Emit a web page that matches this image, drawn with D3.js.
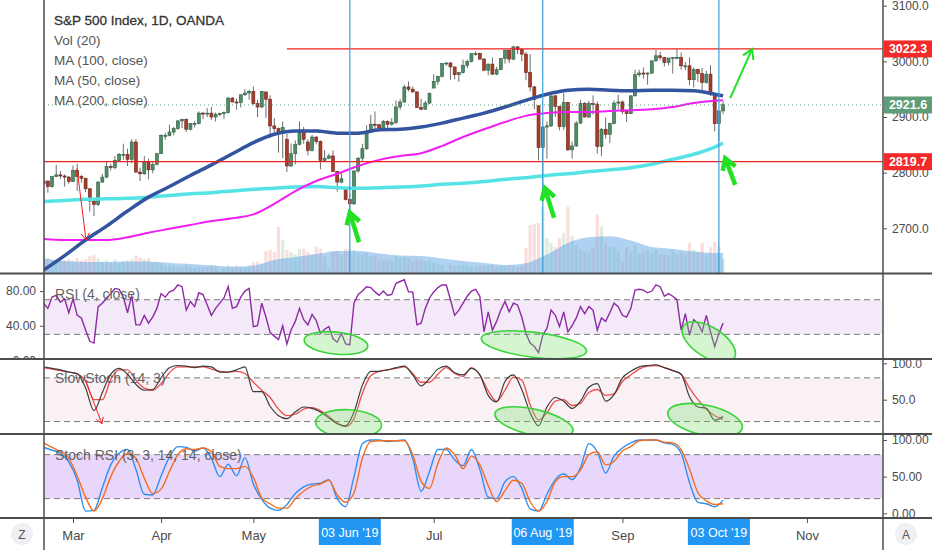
<!DOCTYPE html>
<html>
<head>
<meta charset="utf-8">
<script src="https://cdn.jsdelivr.net/npm/d3@7"></script>
<style>
  body { margin: 0; background: #fff; }
  svg { display: block; font-family: "Liberation Sans", Arial, sans-serif; }
</style>
</head>
<body>
<div id="container"></div>
<script>
/* DATA (daily bars, first bar = 20 Feb 2019, weekdays only) */
const firstDay = "2019-02-20";
const lastDay = "2019-11-30";

const open = [
  2780, 2785, 2775, 2793, 2796, 2794, 2792,
  2784, 2804, 2793, 2790, 2771, 2749, 2743, 2783, 2792, 2811, 2809, 2822, 2833, 2833, 2824, 2855, 2801, 2798, 2819, 2805, 2815,
  2834, 2867, 2867, 2873, 2879, 2893, 2896, 2878, 2888, 2888, 2907, 2906, 2907, 2900, 2905, 2906, 2908, 2934, 2927, 2926, 2940, 2943,
  2946, 2924, 2918, 2945, 2932, 2884, 2879, 2871, 2860, 2812, 2834, 2851, 2876, 2855, 2840, 2864, 2856, 2822, 2826, 2830, 2802, 2783, 2770,
  2752, 2744, 2803, 2826, 2843, 2873, 2887, 2886, 2880, 2892, 2887, 2890, 2918, 2927, 2954, 2950, 2945, 2917, 2914, 2925,
  2952, 2964, 2973, 2996, 2997, 2990, 2976, 2980, 2993, 3000, 3014, 3014, 3004, 2984, 2995, 2977, 2985, 3005, 3020, 3004, 3026, 3021, 3013,
  2980, 2954, 2920, 2845, 2882, 2884, 2938, 2919, 2883, 2926, 2841, 2848, 2889, 2924, 2900, 2924, 2923, 2847, 2878, 2869, 2888, 2925,
  2927, 2910, 2906, 2938, 2976, 2979, 2978, 2979, 3001, 3010, 3007, 2998, 3006, 3007, 3007, 2992, 2992, 2967, 2985, 2978, 2962,
  2977, 2940, 2888, 2911
];
const high = [
  2789, 2786, 2793, 2814, 2803, 2797, 2794,
  2813, 2816, 2796, 2791, 2772, 2750, 2785, 2798, 2821, 2816, 2830, 2835, 2852, 2843, 2860, 2860, 2809, 2830, 2825, 2819, 2836,
  2869, 2872, 2886, 2882, 2894, 2896, 2897, 2889, 2893, 2910, 2909, 2916, 2918, 2908, 2908, 2910, 2936, 2936, 2933, 2940, 2950, 2949,
  2955, 2931, 2947, 2946, 2939, 2898, 2881, 2892, 2870, 2852, 2858, 2892, 2882, 2860, 2868, 2865, 2858, 2841, 2834, 2840, 2803, 2800, 2775,
  2763, 2804, 2828, 2852, 2885, 2904, 2910, 2888, 2895, 2894, 2898, 2930, 2932, 2958, 2964, 2955, 2946, 2933, 2929, 2944,
  2977, 2974, 2996, 2999, 2999, 2990, 2981, 3003, 3003, 3014, 3018, 3016, 3006, 2996, 3007, 2990, 3005, 3020, 3021, 3028, 3027, 3022, 3017,
  3013, 2956, 2921, 2885, 2892, 2938, 2940, 2920, 2943, 2927, 2856, 2893, 2931, 2927, 2929, 2939, 2928, 2880, 2899, 2890, 2930, 2940,
  2930, 2914, 2939, 2985, 2985, 2989, 2980, 3001, 3021, 3017, 3008, 3006, 3008, 3022, 3016, 2999, 3007, 2989, 2987, 2988, 2983,
  2993, 2942, 2911, 2928
];
const low = [
  2774, 2764, 2773, 2792, 2789, 2775, 2780,
  2783, 2767, 2782, 2765, 2730, 2722, 2740, 2782, 2790, 2804, 2806, 2819, 2823, 2812, 2817, 2800, 2785, 2796, 2788, 2799, 2813,
  2834, 2859, 2865, 2867, 2877, 2880, 2873, 2876, 2881, 2887, 2896, 2900, 2895, 2892, 2902, 2896, 2906, 2926, 2913, 2917, 2938, 2931,
  2922, 2900, 2916, 2898, 2862, 2873, 2836, 2826, 2801, 2810, 2815, 2849, 2852, 2831, 2838, 2851, 2806, 2820, 2824, 2801, 2766, 2781, 2750,
  2729, 2742, 2800, 2821, 2841, 2871, 2878, 2874, 2879, 2880, 2885, 2887, 2913, 2925, 2946, 2944, 2916, 2912, 2913, 2923,
  2952, 2958, 2971, 2992, 2967, 2968, 2963, 2978, 2988, 2998, 3010, 3003, 2984, 2975, 2976, 2975, 2984, 2996, 2997, 3002, 3013, 3000, 2966,
  2946, 2914, 2822, 2776, 2825, 2882, 2900, 2876, 2877, 2839, 2825, 2846, 2888, 2899, 2898, 2904, 2834, 2830, 2861, 2853, 2887, 2914,
  2905, 2891, 2905, 2937, 2972, 2969, 2958, 2977, 2999, 3002, 2991, 2993, 2978, 3004, 2985, 2984, 2957, 2953, 2963, 2946, 2960,
  2938, 2874, 2856, 2905
];
const close = [
  2785, 2775, 2793, 2796, 2794, 2792, 2784,
  2804, 2793, 2790, 2771, 2749, 2743, 2783, 2792, 2811, 2809, 2822, 2833, 2833, 2824, 2855, 2801, 2798, 2819, 2805, 2815, 2834,
  2867, 2867, 2873, 2879, 2893, 2896, 2878, 2888, 2888, 2907, 2906, 2907, 2900, 2905, 2906, 2908, 2934, 2927, 2926, 2940, 2943, 2946,
  2924, 2918, 2946, 2932, 2884, 2879, 2871, 2881, 2812, 2834, 2851, 2876, 2860, 2840, 2864, 2856, 2822, 2826, 2830, 2802, 2783, 2789, 2752,
  2744, 2803, 2826, 2843, 2873, 2887, 2886, 2880, 2892, 2887, 2890, 2918, 2927, 2954, 2950, 2945, 2917, 2914, 2925, 2942,
  2964, 2973, 2996, 2997, 2990, 2976, 2980, 2993, 3000, 3014, 3014, 3004, 2984, 2995, 2977, 2985, 3005, 3020, 3004, 3026, 3021, 3013, 2980,
  2954, 2932, 2845, 2882, 2884, 2938, 2919, 2883, 2926, 2841, 2848, 2889, 2924, 2900, 2924, 2923, 2847, 2878, 2869, 2888, 2925, 2927,
  2910, 2906, 2938, 2976, 2979, 2978, 2979, 3001, 3010, 3007, 2998, 3006, 3007, 3007, 2992, 2992, 2967, 2985, 2978, 2962, 2977,
  2940, 2888, 2911, 2922
];
const volume = [
  60, 62, 55, 58, 52, 55, 58,
  55, 65, 52, 58, 72, 76, 62, 48, 55, 45, 58, 42, 52, 55, 58, 76, 66, 60, 64, 44, 48,
  40, 30, 32, 28, 25, 24, 32, 25, 24, 28, 24, 26, 32, 28, 6, 20, 32, 28, 32, 28, 24, 32,
  45, 48, 40, 95, 99, 90, 197, 140, 99, 90, 80, 104, 104, 90, 80, 113, 105, 70, 20, 90, 95, 80, 103,
  103, 100, 85, 80, 85, 70, 75, 60, 55, 55, 50, 75, 65, 70, 65, 50, 60, 55, 50, 55,
  45, 35, 30, 8, 35, 30, 30, 35, 30, 25, 25, 30, 30, 35, 35, 25, 30, 30, 35, 30, 25, 30, 107,
  206, 210, 214, 283, 150, 129, 110, 150, 171, 283, 160, 120, 100, 95, 90, 110, 250, 200, 130, 110, 110, 90,
  50, 110, 90, 120, 80, 90, 95, 85, 100, 80, 80, 75, 100, 80, 90, 80, 129, 100, 90, 129, 80,
  110, 133, 115, 60
];

// moving averages, read every 5 bars
const maBars = [0, 5, 10, 15, 20, 25, 30, 35, 40, 45, 50, 55, 60, 65, 70, 75, 80, 85, 90, 95, 100, 105, 110, 115, 120, 125, 130, 135, 140, 145, 150, 155, 160, 162];
const ma100 = [2625, 2651, 2679, 2704, 2731, 2756, 2775, 2795, 2814, 2834, 2854, 2869, 2875, 2875, 2871, 2871, 2877, 2878, 2882, 2889, 2898, 2907, 2918, 2930, 2941, 2948, 2950, 2948, 2947, 2948, 2948, 2947, 2941, 2938];
const ma50 = [2681, 2679, 2679, 2679, 2684, 2692, 2699, 2706, 2713, 2718, 2725, 2744, 2767, 2785, 2798, 2812, 2823, 2830, 2835, 2848, 2864, 2878, 2891, 2902, 2907, 2909, 2909, 2911, 2912, 2914, 2918, 2925, 2929, 2930];
const ma200 = [2748, 2750, 2752, 2753, 2754, 2756, 2759, 2762, 2764, 2767, 2770, 2772, 2774, 2775, 2773, 2772, 2773, 2774, 2776, 2779, 2781, 2784, 2788, 2791, 2795, 2798, 2802, 2805, 2809, 2815, 2824, 2833, 2846, 2853];
const volMA = [64, 51, 47, 47, 49, 49, 43, 39, 33, 27, 32, 56, 69, 81, 94, 94, 84, 75, 73, 62, 51, 43, 34, 42, 79, 129, 153, 158, 139, 111, 103, 92, 86, 86];

// RSI (4) one value per bar
const rsi = [
  66, 60, 73, 75, 67, 71, 55,
  71, 52, 49, 35, 22, 20, 62, 66, 72, 77, 83, 82, 73, 55, 75, 41, 41, 52, 43, 50, 60,
  77, 73, 79, 81, 87, 85, 58, 68, 62, 78, 76, 64, 52, 60, 66, 72, 85, 60, 62, 73, 80, 83,
  39, 40, 66, 50, 32, 28, 24, 40, 19, 35, 45, 60, 47, 41, 53, 46, 31, 36, 39, 25, 21, 31, 19,
  18, 66, 76, 80, 85, 84, 79, 75, 80, 75, 76, 89, 91, 93, 79, 79, 41, 43, 60, 72,
  79, 84, 87, 87, 70, 52, 58, 66, 74, 80, 82, 74, 33, 56, 35, 45, 58, 68, 56, 66, 64, 50, 31,
  20, 16, 9, 29, 37, 58, 52, 39, 56, 33, 40, 49, 62, 54, 62, 58, 35, 49, 45, 55, 66, 62,
  52, 50, 60, 81, 82, 81, 78, 80, 87, 85, 74, 77, 74, 70, 35, 54, 29, 47, 43, 33, 52,
  33, 16, 31, 43
];

// oscillators read every 2 bars
const stochK = [95, 93, 91, 88, 86, 66, 35, 60, 85, 93, 85, 71, 63, 64, 80, 94, 97, 96, 94, 96, 95, 88, 88, 91, 95, 61, 61, 41, 28, 24, 33, 40, 38, 33, 25, 17, 14, 33, 70, 89, 89, 91, 94, 96, 84, 69, 79, 92, 96, 87, 84, 93, 84, 56, 47, 75, 84, 64, 32, 14, 40, 53, 48, 38, 48, 67, 72, 48, 57, 80, 89, 95, 97, 98, 94, 90, 85, 54, 40, 38, 22, 27];
const stochD = [94, 92, 90, 88, 85, 76, 50, 50, 78, 91, 91, 77, 66, 63, 72, 87, 95, 95, 95, 95, 92, 89, 88, 89, 86, 74, 63, 53, 37, 28, 30, 37, 39, 35, 27, 18, 13, 24, 59, 83, 89, 91, 93, 95, 86, 74, 74, 85, 94, 86, 82, 94, 84, 62, 48, 63, 81, 77, 43, 22, 32, 48, 50, 42, 45, 60, 64, 56, 58, 75, 84, 92, 96, 97, 94, 90, 85, 66, 50, 37, 28, 23];
const srsiK = [90, 86, 82, 70, 45, 3, 4, 35, 66, 82, 87, 60, 26, 25, 51, 77, 91, 90, 85, 89, 75, 50, 67, 51, 76, 40, 19, 7, 4, 12, 27, 36, 40, 41, 46, 20, 9, 50, 95, 100, 100, 98, 99, 100, 75, 30, 57, 87, 87, 73, 65, 87, 60, 22, 20, 43, 50, 34, 6, 3, 26, 46, 54, 46, 62, 95, 84, 55, 78, 89, 96, 100, 100, 100, 96, 94, 82, 42, 15, 13, 9, 18];
const srsiD = [96, 90, 84, 75, 51, 22, 3, 20, 50, 71, 82, 75, 48, 27, 33, 57, 80, 88, 87, 89, 84, 64, 61, 61, 64, 49, 21, 13, 7, 7, 20, 30, 37, 40, 45, 25, 15, 28, 75, 98, 99, 99, 99, 99, 80, 44, 34, 68, 89, 80, 61, 78, 66, 38, 16, 31, 45, 41, 16, 3, 16, 43, 50, 50, 59, 80, 84, 66, 71, 85, 91, 99, 100, 100, 97, 96, 87, 60, 28, 17, 12, 13];

// levels and labels
const levels = [3022.3, 2819.7];
const levelStart = ["2019-05-13", firstDay];
const lastPrice = 2921.6;
const markedDates = ["2019-06-03", "2019-08-06", "2019-10-03"];
const markedLabels = ["03 Jun '19", "06 Aug '19", "03 Oct '19"];
const monthTicks = ["Mar", "Apr", "May", "Jul", "Sep", "Nov"];
const priceTicks = [2700, 2800, 2900, 3000, 3100];
const rsiTicks = [0, 40, 80];
const stochTicks = [50, 100];
const srsiTicks = [0, 50, 100];
const legendLines = ["S&P 500 Index, 1D, OANDA", "Vol (20)", "MA (100, close)", "MA (50, close)", "MA (200, close)"];

// hand drawn notes: [bar, value] pairs
const greenArrows = [[75.2, 2675, 73.0, 2728], [121.7, 2719, 119.5, 2772], [164.9, 2778, 162.5, 2826]];
const targetArrow = [163.7, 2934, 168.9, 3022];
const redArrowMain = [7.95, 2808, 10.1, 2679];
const redArrowStoch = [9.9, 77, 13.9, 17];
const rsiCircles = [[69.7, 20, 32, 11, 6], [116.9, 18, 53, 12.5, 7], [158.6, 21, 30, 15, 32]];
const stochCircles = [[72.7, 17, 33, 14, 3], [116.9, 19, 40, 13, 13], [157.7, 22, 38, 15, 12]];

/* LAYOUT */
const W = 932, H = 550;
const left = 44, right = 883;
const pane = {
  main: [0, 273],
  rsi: [274, 359],
  stoch: [359, 434],
  srsi: [434, 518]
};

const parseDay = d3.utcParse("%Y-%m-%d");
const days = d3.utcDay.range(parseDay(firstDay), parseDay(lastDay))
  .filter(d => d.getUTCDay() !== 0 && d.getUTCDay() !== 6);
const barOf = s => days.findIndex(d => +d === +parseDay(s));

/* SCALES */
const x = d3.scaleLinear().domain([0.085, 200.13]).range([left, right]);
const yPrice = d3.scaleLinear().domain([2700, 3100]).range([228.3, 5.7]);
const yVol = d3.scaleLinear().domain([0, 300]).range([273, 203]);
const yRsi = d3.scaleLinear().domain([0, 100]).range([360.4, 273.7]);
const yStoch = d3.scaleLinear().domain([0, 100]).range([436.1, 363.3]);
const ySrsi = d3.scaleLinear().domain([0, 100]).range([513.3, 440]);

const svg = d3.select("#container").append("svg")
  .attr("width", W).attr("height", H);
svg.append("rect").attr("width", W).attr("height", H).attr("fill", "#ffffff");
const defs = svg.append("defs");

function paneGroup(id, [top, bottom]) {
  defs.append("clipPath").attr("id", id).append("rect")
    .attr("x", left).attr("y", top).attr("width", right - left).attr("height", bottom - top);
  return svg.append("g").attr("clip-path", `url(#${id})`);
}

function band(g, y, lo, hi, fill) {
  g.append("rect").attr("x", left).attr("width", right - left)
    .attr("y", y(hi)).attr("height", y(lo) - y(hi)).attr("fill", fill);
  [lo, hi].forEach(v => g.append("line")
    .attr("x1", left).attr("x2", right).attr("y1", y(v)).attr("y2", y(v))
    .attr("stroke", "#7a7a7a").attr("stroke-dasharray", "6,4"));
}

function arrow(g, [b1, v1, b2, v2], y, color, width, head) {
  const x1 = x(b1), y1 = y(v1), x2 = x(b2), y2 = y(v2);
  const a = Math.atan2(y2 - y1, x2 - x1);
  g.append("line").attr("x1", x1).attr("y1", y1).attr("x2", x2).attr("y2", y2)
    .attr("stroke", color).attr("stroke-width", width);
  g.append("path")
    .attr("d", `M${x2 - head * Math.cos(a - 0.55)},${y2 - head * Math.sin(a - 0.55)}L${x2},${y2}L${x2 - head * Math.cos(a + 0.55)},${y2 - head * Math.sin(a + 0.55)}`)
    .attr("fill", "none").attr("stroke", color).attr("stroke-width", width)
    .attr("stroke-linejoin", "miter");
}

function circles(g, list, y) {
  g.selectAll(null).data(list).join("ellipse")
    .attr("cx", 0).attr("cy", 0)
    .attr("rx", d => d[2]).attr("ry", d => d[3])
    .attr("transform", d => `translate(${x(d[0])},${y(d[1])}) rotate(${d[4]})`)
    .attr("fill", "rgba(120,225,110,0.32)")
    .attr("stroke", "#38d438").attr("stroke-width", 1.6);
}

/* MAIN PANE */
const bars = close.map((c, k) => ({ k, o: open[k], h: high[k], l: low[k], c, v: volume[k] }));
const mainG = paneGroup("clip-main", pane.main);

mainG.selectAll(".vol").data(bars).join("rect")
  .attr("class", "vol")
  .attr("x", d => x(d.k) - 1.6).attr("width", 3.2)
  .attr("y", d => yVol(d.v)).attr("height", d => yVol(0) - yVol(d.v))
  .attr("fill", d => d.c >= d.o ? "rgba(90,170,120,0.22)" : "rgba(235,100,90,0.22)");

const maPts = arr => maBars.map((k, i) => ({ k, v: arr[i] }));
mainG.append("path").datum(maPts(volMA))
  .attr("d", d3.area().x(d => x(d.k)).y0(yVol(0)).y1(d => yVol(d.v)).curve(d3.curveMonotoneX))
  .attr("fill", "rgba(95,165,230,0.5)");

mainG.selectAll(".wick").data(bars).join("line")
  .attr("class", "wick")
  .attr("x1", d => x(d.k)).attr("x2", d => x(d.k))
  .attr("y1", d => yPrice(d.h)).attr("y2", d => yPrice(d.l))
  .attr("stroke", "#6e6e6e").attr("stroke-width", 1);

mainG.selectAll(".body").data(bars).join("rect")
  .attr("class", "body")
  .attr("x", d => x(d.k) - 1.5).attr("width", 3)
  .attr("y", d => yPrice(Math.max(d.o, d.c)))
  .attr("height", d => Math.max(1, Math.abs(yPrice(d.o) - yPrice(d.c))))
  .attr("fill", d => d.c >= d.o ? "#4f8d69" : "#a83d2c")
  .attr("stroke", d => d.c >= d.o ? "#2e5c42" : "#6a2219").attr("stroke-width", 0.6);

const maLine = d3.line().x(d => x(d.k)).y(d => yPrice(d.v)).curve(d3.curveMonotoneX);
mainG.append("path").datum(maPts(ma200)).attr("d", maLine)
  .attr("fill", "none").attr("stroke", "#56e3e6").attr("stroke-width", 3.5);
mainG.append("path").datum(maPts(ma50)).attr("d", maLine)
  .attr("fill", "none").attr("stroke", "#f01ef0").attr("stroke-width", 2);
mainG.append("path").datum(maPts(ma100)).attr("d", maLine)
  .attr("fill", "none").attr("stroke", "#33549e").attr("stroke-width", 3.5);

// horizontal levels
levels.forEach((v, i) => mainG.append("line")
  .attr("x1", x(barOf(levelStart[i]))).attr("x2", right)
  .attr("y1", yPrice(v)).attr("y2", yPrice(v))
  .attr("stroke", "#f21f1f").attr("stroke-width", 1.3));
mainG.append("line")
  .attr("x1", left).attr("x2", right).attr("y1", yPrice(lastPrice)).attr("y2", yPrice(lastPrice))
  .attr("stroke", "#5e9a78").attr("stroke-width", 1).attr("stroke-dasharray", "1,3");

// vertical markers
markedDates.forEach(s => mainG.append("line")
  .attr("x1", x(barOf(s))).attr("x2", x(barOf(s)))
  .attr("y1", pane.main[0]).attr("y2", pane.main[1])
  .attr("stroke", "#3d9fdc").attr("stroke-width", 1.2));

greenArrows.forEach(a => arrow(mainG, a, yPrice, "#22e022", 4.5, 13));
arrow(svg, targetArrow, yPrice, "#22e022", 2, 11);
arrow(mainG, redArrowMain, yPrice, "#f02020", 1, 8);

/* RSI PANE */
const rsiG = paneGroup("clip-rsi", pane.rsi);
band(rsiG, yRsi, 30, 70, "#f3e9f8");
rsiG.append("path").datum(rsi)
  .attr("d", d3.line().x((d, k) => x(k)).y(d => yRsi(d)))
  .attr("fill", "none").attr("stroke", "#8e2aa3").attr("stroke-width", 1.4);
circles(rsiG, rsiCircles, yRsi);

/* SLOW STOCH PANE */
const oscPts = arr => arr.map((v, i) => ({ k: i * 2, v }));
const stG = paneGroup("clip-stoch", pane.stoch);
band(stG, yStoch, 20, 80, "#faf1f5");
const stLine = d3.line().x(d => x(d.k)).y(d => yStoch(d.v)).curve(d3.curveMonotoneX);
stG.append("path").datum(oscPts(stochD)).attr("d", stLine)
  .attr("fill", "none").attr("stroke", "#ec4d4d").attr("stroke-width", 1.3);
stG.append("path").datum(oscPts(stochK)).attr("d", stLine)
  .attr("fill", "none").attr("stroke", "#3c3c3c").attr("stroke-width", 1.2);
arrow(stG, redArrowStoch, yStoch, "#f02020", 1, 7);
circles(stG, stochCircles, yStoch);

/* STOCH RSI PANE */
const srG = paneGroup("clip-srsi", pane.srsi);
band(srG, ySrsi, 20, 80, "#e8d7fa");
const srLine = d3.line().x(d => x(d.k)).y(d => ySrsi(d.v)).curve(d3.curveMonotoneX);
srG.append("path").datum(oscPts(srsiK)).attr("d", srLine)
  .attr("fill", "none").attr("stroke", "#2f8ff0").attr("stroke-width", 1.4);
srG.append("path").datum(oscPts(srsiD)).attr("d", srLine)
  .attr("fill", "none").attr("stroke", "#f26d21").attr("stroke-width", 1.4);

/* AXES */
function styleAxis(g) {
  g.select(".domain").remove();
  g.selectAll("line").attr("stroke", "#555");
  g.selectAll("text").attr("fill", "#4a4a4a").attr("font-size", 12)
    .attr("font-family", "Liberation Sans, Arial, sans-serif");
}
svg.append("g").attr("transform", `translate(${right},0)`)
  .call(d3.axisRight(yPrice).tickValues(priceTicks).tickFormat(d3.format(".1f")).tickSize(4).tickPadding(5))
  .call(styleAxis);
defs.append("clipPath").attr("id", "clip-rsi-axis").append("rect")
  .attr("x", 0).attr("y", pane.rsi[0]).attr("width", left + 1).attr("height", pane.rsi[1] - pane.rsi[0]);
svg.append("g").attr("clip-path", "url(#clip-rsi-axis)").append("g")
  .attr("transform", `translate(${left},0)`)
  .call(d3.axisLeft(yRsi).tickValues(rsiTicks).tickFormat(d3.format(".2f")).tickSize(4).tickPadding(4))
  .call(styleAxis);
svg.append("g").attr("transform", `translate(${right},0)`)
  .call(d3.axisRight(yStoch).tickValues(stochTicks).tickFormat(d3.format(".1f")).tickSize(4).tickPadding(5))
  .call(styleAxis);
svg.append("g").attr("transform", `translate(${right},0)`)
  .call(d3.axisRight(ySrsi).tickValues(srsiTicks).tickFormat(d3.format(".2f")).tickSize(4).tickPadding(5))
  .call(styleAxis);

const parseMonth = d3.utcParse("%b %Y");
const monthBars = monthTicks.map(m => days.findIndex(d => d >= parseMonth(m + " 2019")));
svg.append("g").attr("transform", `translate(0,${pane.srsi[1]})`)
  .call(d3.axisBottom(x).tickValues(monthBars).tickFormat((d, i) => monthTicks[i]).tickSize(5).tickPadding(8))
  .call(styleAxis)
  .call(g => g.selectAll("text").attr("font-size", 13));

/* SEPARATORS */
[pane.main[1] + 0.5, pane.rsi[1], pane.stoch[1], pane.srsi[1]].forEach(y => svg.append("line")
  .attr("x1", 0).attr("x2", W).attr("y1", y).attr("y2", y)
  .attr("stroke", "#4d4d4d").attr("stroke-width", 2));
[left, right].forEach(xx => svg.append("line")
  .attr("x1", xx).attr("x2", xx).attr("y1", 0).attr("y2", H)
  .attr("stroke", "#4d4d4d").attr("stroke-width", 1.5));

/* PRICE LABELS */
function priceTag(v, fill) {
  const g = svg.append("g").attr("transform", `translate(${right + 1},${yPrice(v)})`);
  g.append("rect").attr("x", 0).attr("y", -8.5).attr("width", W - right).attr("height", 17).attr("fill", fill);
  g.append("text").attr("x", 24).attr("y", 4.5).attr("text-anchor", "middle")
    .attr("fill", "#fff").attr("font-size", 12.5).attr("font-weight", "bold")
    .text(d3.format(".1f")(v));
}
priceTag(levels[0], "#f22a2a");
priceTag(lastPrice, "#5f9c78");
priceTag(levels[1], "#f22a2a");

/* DATE LABELS */
markedDates.forEach((s, i) => {
  const g = svg.append("g").attr("transform", `translate(${x(barOf(s))},${pane.srsi[1]})`);
  g.append("rect").attr("x", -31).attr("y", 1).attr("width", 62).attr("height", 26).attr("fill", "#2196f3");
  g.append("text").attr("y", 19).attr("text-anchor", "middle")
    .attr("fill", "#fff").attr("font-size", 12.5).text(markedLabels[i]);
});

/* LEGENDS */
svg.selectAll(".legend").data(legendLines).join("text")
  .attr("class", "legend")
  .attr("x", 54).attr("y", (d, i) => 25 + i * 20)
  .attr("font-size", 13.5)
  .attr("fill", (d, i) => i === 0 ? "#333" : "#555")
  .attr("stroke", (d, i) => i === 0 ? "#333" : "none").attr("stroke-width", 0.3)
  .text(d => d);

[["RSI (4, close)", 299], ["SlowStoch (14, 3)", 383], ["Stoch RSI (3, 3, 14, 14, close)", 460]]
  .forEach(([t, y]) => svg.append("text").attr("x", 55).attr("y", y)
    .attr("font-size", 14).attr("fill", "#555").attr("opacity", 0.9).text(t));

/* CORNER BUTTONS */
[["Z", 22], ["A", 906]].forEach(([t, cx]) => {
  svg.append("circle").attr("cx", cx).attr("cy", 534).attr("r", 11).attr("fill", "#eef0f4");
  svg.append("text").attr("x", cx).attr("y", 539).attr("text-anchor", "middle")
    .attr("font-size", 12).attr("fill", "#555").text(t);
});
</script>
</body>
</html>
